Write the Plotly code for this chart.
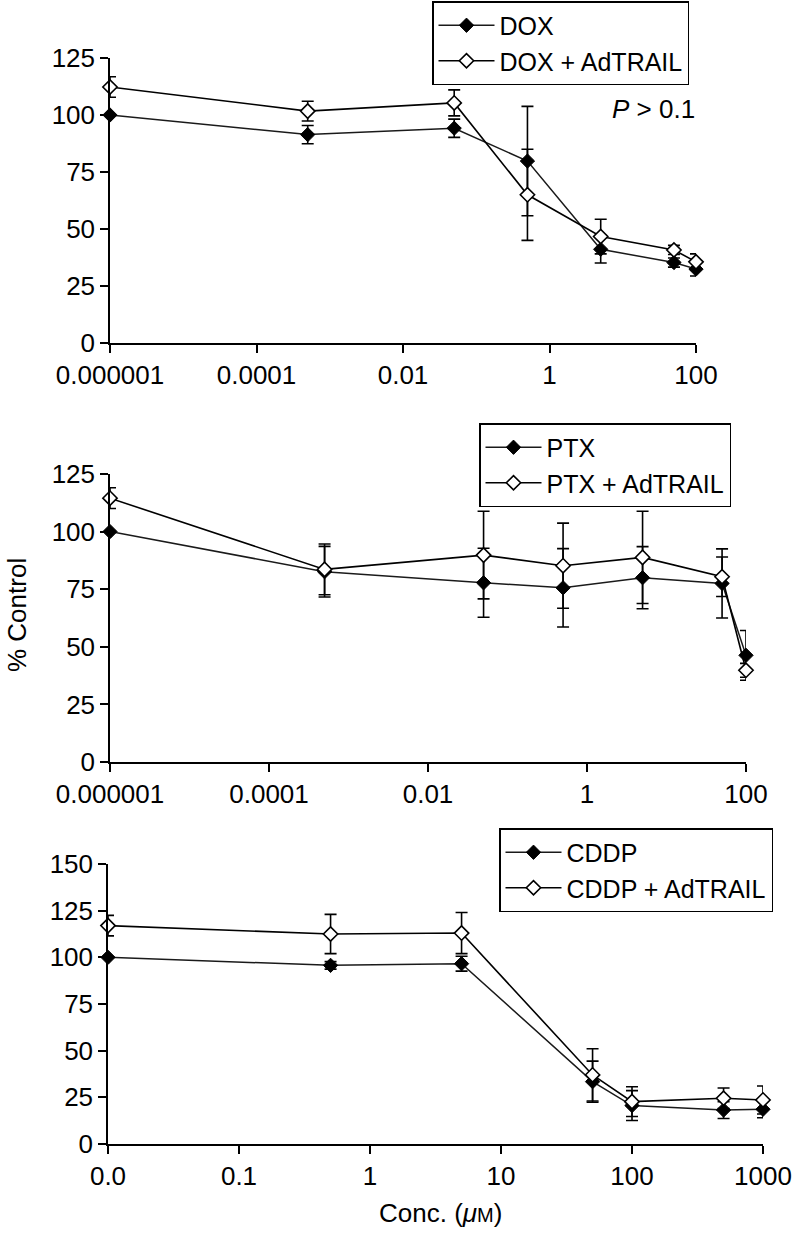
import plotly.graph_objects as go

# ---- data ----
conc_ab = [1e-6, 5e-4, 0.05, 0.5, 5, 50, 100]
conc_c = [0.01, 0.5, 5, 50, 100, 500, 1000]

dox = [100, 91.4, 94.2, 79.8, 41.1, 35.3, 32.4]
dox_err = [0, 4, 4, 24, 6, 2, 3]
dox_tr = [112.3, 101.7, 105.3, 65, 46.7, 40.8, 35.6]
dox_tr_err = [4.5, 4.3, 5.7, 20, 7.6, 2, 3.5]

ptx = [100, 82.6, 77.8, 75.6, 80, 77.5, 46.3]
ptx_err = [0, 11, 15, 17, 13.5, 15, 10.8]
ptx_tr = [114.5, 83.6, 89.8, 85.2, 88.8, 80.4, 39.8]
ptx_tr_err = [4.5, 11, 19, 18.5, 20, 8.6, 3]

cddp = [100, 95.7, 96.6, 33.4, 20.6, 18.2, 18.6]
cddp_err = [0, 2, 4, 11, 8, 4.5, 4.5]
cddp_tr = [117, 112.5, 113, 37, 22.7, 24.5, 23.6]
cddp_tr_err = [5.5, 10.5, 11, 14, 8, 5.5, 7.5]

ab_tickvals = [1e-6, 1e-4, 1e-2, 1, 100]
ab_ticktext = ["0.000001", "0.0001", "0.01", "1", "100"]
c_tickvals = [0.01, 0.1, 1, 10, 100, 1000]
c_ticktext = ["0.0", "0.1", "1", "10", "100", "1000"]

W, H = 794, 1233
FAM = "Liberation Sans, Arial, Helvetica, sans-serif"
TICKFONT = dict(family=FAM, size=26, color="black")

fig = go.Figure()


def add_pair(name1, y1, e1, name2, y2, e2, x, xa, ya, leg):
    fig.add_trace(go.Scatter(
        x=x, y=y1, name=name1, mode="lines+markers", xaxis=xa, yaxis=ya, legend=leg,
        line=dict(color="#1a1a1a", width=1.5),
        marker=dict(symbol="diamond", size=11, color="black", line=dict(color="black", width=1)),
        error_y=dict(type="data", array=e1, visible=True, color="black", thickness=1.6, width=6),
        cliponaxis=False,
    ))
    fig.add_trace(go.Scatter(
        x=x, y=y2, name=name2, mode="lines+markers", xaxis=xa, yaxis=ya, legend=leg,
        line=dict(color="black", width=1.6),
        marker=dict(symbol="diamond", size=11, color="white", line=dict(color="black", width=1.6)),
        error_y=dict(type="data", array=e2, visible=True, color="black", thickness=1.6, width=6),
        cliponaxis=False,
    ))


add_pair("DOX", dox, dox_err, "DOX + AdTRAIL", dox_tr, dox_tr_err, conc_ab, "x", "y", "legend")
add_pair("PTX", ptx, ptx_err, "PTX + AdTRAIL", ptx_tr, ptx_tr_err, conc_ab, "x2", "y2", "legend2")
add_pair("CDDP", cddp, cddp_err, "CDDP + AdTRAIL", cddp_tr, cddp_tr_err, conc_c, "x3", "y3", "legend3")


def px_x(p):
    return p / W


def px_y(p):
    return 1 - p / H


axis_common = dict(showline=True, linecolor="black", linewidth=1.5, ticks="outside", ticklen=8,
                   tickwidth=1.5, tickcolor="black", showgrid=False, zeroline=False,
                   tickfont=TICKFONT, mirror=False, automargin=False)

legend_common = dict(bordercolor="black", borderwidth=1.5, bgcolor="white",
                     font=dict(family=FAM, size=25, color="black"),
                     xanchor="right", yanchor="top", tracegroupgap=0, itemwidth=56)

fig.update_layout(
    width=W, height=H, autosize=False,
    margin=dict(l=0, r=0, t=0, b=0, autoexpand=False),
    paper_bgcolor="white", plot_bgcolor="white",
    showlegend=True,
    xaxis=dict(type="log", range=[-6, 2], domain=[px_x(110), px_x(696)], anchor="y",
               tickvals=ab_tickvals, ticktext=ab_ticktext, **axis_common),
    yaxis=dict(range=[0, 125], domain=[px_y(343), px_y(58)], anchor="x",
               tickvals=[0, 25, 50, 75, 100, 125], **axis_common),
    xaxis2=dict(type="log", range=[-6, 2], domain=[px_x(110), px_x(746)], anchor="y2",
                tickvals=ab_tickvals, ticktext=ab_ticktext, **axis_common),
    yaxis2=dict(range=[0, 125], domain=[px_y(762), px_y(474)], anchor="x2",
                tickvals=[0, 25, 50, 75, 100, 125], **axis_common),
    xaxis3=dict(type="log", range=[-2, 3], domain=[px_x(108), px_x(763)], anchor="y3",
                tickvals=c_tickvals, ticktext=c_ticktext, **axis_common),
    yaxis3=dict(range=[0, 150], domain=[px_y(1144), px_y(864)], anchor="x3",
                tickvals=[0, 25, 50, 75, 100, 125, 150], **axis_common),
    legend=dict(x=px_x(689), y=px_y(1), **legend_common),
    legend2=dict(x=px_x(731), y=px_y(423), **legend_common),
    legend3=dict(x=px_x(773), y=px_y(828), **legend_common),
    annotations=[
        dict(text="<i>P</i> > 0.1", x=px_x(653), y=px_y(109), xref="paper", yref="paper",
             xanchor="center", yanchor="middle", showarrow=False,
             font=dict(family=FAM, size=26, color="black")),
        dict(text="% Control", x=px_x(17), y=px_y(615), xref="paper", yref="paper",
             xanchor="center", yanchor="middle", textangle=-90, showarrow=False,
             font=dict(family=FAM, size=26, color="black")),
        dict(text="Conc. (<i>μ</i><span style='font-size:20px'>M</span>)", x=px_x(440), y=px_y(1213),
             xref="paper", yref="paper", xanchor="center", yanchor="middle", showarrow=False,
             font=dict(family=FAM, size=26, color="black")),
    ],
)

# remove the page's default body margin so the figure fills the window exactly
fig.write_html("out.html", config={"displayModeBar": False},
               post_script="document.body.style.margin='0';document.body.style.overflow='hidden';")
